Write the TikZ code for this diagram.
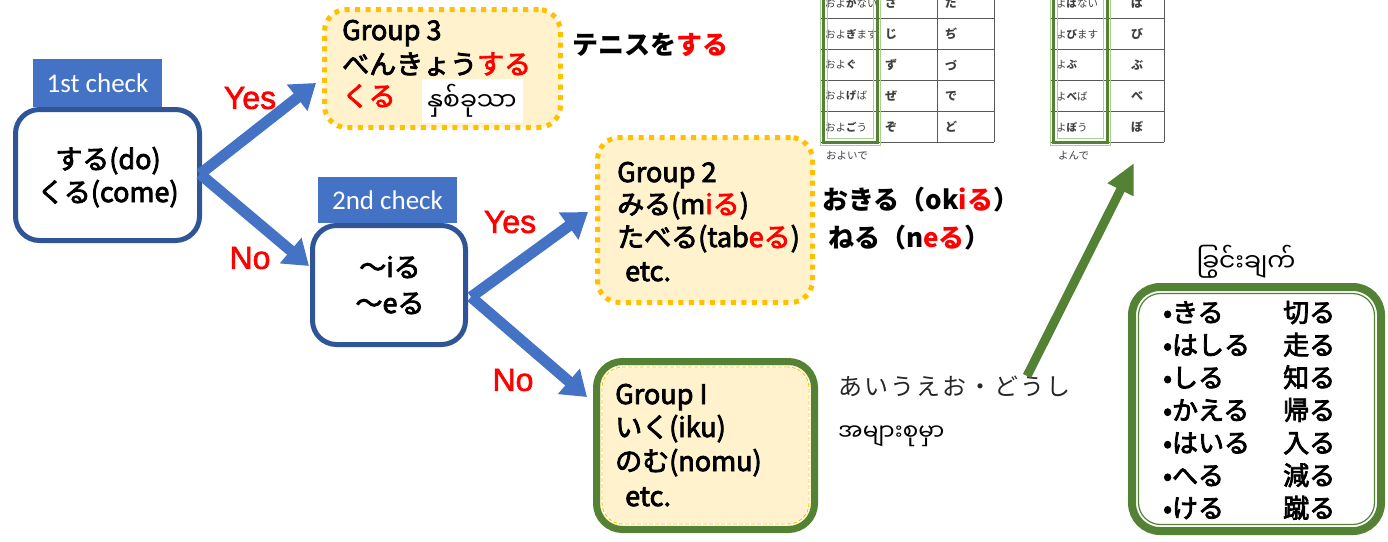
\documentclass[tikz,border=0pt]{standalone}
\usepackage{fontspec}
\setmainfont{Noto Sans CJK JP}
\newfontfamily\medfont{Noto Sans CJK JP}[FakeBold=3]
\newfontfamily\mmfont[Script=Myanmar]{Noto Sans Myanmar UI}
\newfontfamily\calfont{Carlito}
\newfontfamily\arialfont{Liberation Sans}[FakeBold=2]
\usetikzlibrary{arrows.meta}

\definecolor{bluefill}{HTML}{4472C4}
\definecolor{bluedark}{HTML}{2F5597}
\definecolor{gold}{HTML}{FFC000}
\definecolor{cream}{HTML}{FFF2CC}
\definecolor{leaf}{HTML}{548235}
\definecolor{leaflight}{HTML}{A9D18E}
\definecolor{redtxt}{HTML}{FF0000}
\definecolor{inkgray}{HTML}{404040}

\newcommand{\rd}[1]{\textcolor{redtxt}{#1}}

\tikzset{
  bigtxt/.style={font=\medfont\fontsize{27}{32}\selectfont, inner sep=0pt,
    text height=23pt, text depth=5pt, anchor=west},
  boldtxt/.style={bigtxt, font=\fontsize{26}{32}\selectfont\bfseries},
  listtxt/.style={bigtxt, font=\medfont\fontsize{26}{32}\selectfont},
  yesno/.style={font=\arialfont\fontsize{32}{36}\selectfont, text=redtxt, inner sep=0pt},
  checklabel/.style={fill=bluefill, text=white, font=\calfont\fontsize{27}{30}\selectfont,
    inner sep=0pt},
  checkbox/.style={draw=bluedark, fill=white, line width=5pt, rounded corners=24pt,
    inner sep=0pt},
  dotbox/.style={draw=gold, fill=cream, line width=5pt, dash pattern=on 5pt off 5.5pt,
    rounded corners=22pt, inner sep=0pt},
  greenbox/.style={draw=leaf, line width=8pt, rounded corners=28pt, inner sep=0pt},
  flowarrow/.style={bluefill, line width=11pt, -{Triangle[length=24pt,width=32pt]}},
  greenarrow/.style={leaf, line width=9pt, -{Triangle[length=30pt,width=27pt]}},
  gridline/.style={draw=black!65, line width=1pt},
  tabtxt/.style={font=\fontsize{10.5}{12}\selectfont, text=inkgray, inner sep=0pt, anchor=west},
  tabkana/.style={font=\fontsize{12}{14}\selectfont\bfseries, text=inkgray, inner sep=0pt, anchor=west},
  mmtxt/.style={inner sep=0pt, font=\mmfont\fontsize{25}{30}\selectfont},
}

\begin{document}
\begin{tikzpicture}[x=1pt,y=-1pt]
\useasboundingbox (0,0) rectangle (1388,541);

% ---------- conjugation tables (top right) ----------
\begin{scope}
  \clip (0,0) rectangle (1388,541);
  \foreach \y in {-13,18,49,80,111,142} {
    \draw[gridline] (820,\y) -- (994,\y);
    \draw[gridline] (1050,\y) -- (1164,\y);
  }
  \foreach \x in {820,880,937,994,1050,1110,1164}
    \draw[gridline] (\x,-13) -- (\x,142);
  \foreach \w [count=\i] in {{およ\textbf{が}ない},{およ\textbf{ぎ}ます},{およ\textbf{ぐ}},{およ\textbf{げ}ば},{およ\textbf{ご}う}}
    \node[tabtxt] (ta\i) at (825,{3+31*(\i-1)}) {\w};
  \foreach \w [count=\i] in {ざ,じ,ず,ぜ,ぞ}
    \node[tabkana] (tb\i) at (885,{3+31*(\i-1)}) {\w};
  \foreach \w [count=\i] in {だ,ぢ,づ,で,ど}
    \node[tabkana] (tc\i) at (945,{3+31*(\i-1)}) {\w};
  \foreach \w [count=\i] in {{よ\textbf{ば}ない},{よ\textbf{び}ます},{よ\textbf{ぶ}},{よ\textbf{べ}ば},{よ\textbf{ぼ}う}}
    \node[tabtxt] (td\i) at (1056,{3+31*(\i-1)}) {\w};
  \foreach \w [count=\i] in {ば,び,ぶ,べ,ぼ}
    \node[tabkana] (te\i) at (1131,{3+31*(\i-1)}) {\w};
  % highlighted stem columns
  \draw[leaflight, line width=1pt] (820.5,-20) rectangle (880.5,145.5);
  \draw[leaf, line width=3.5pt] (823.5,-20) rectangle (877.5,142.5);
  \draw[leaflight, line width=1pt] (827.5,-20) rectangle (873.5,138.5);
  \draw[leaflight, line width=1pt] (1050.5,-20) rectangle (1110.5,145.5);
  \draw[leaf, line width=3.5pt] (1053.5,-20) rectangle (1107.5,142.5);
  \draw[leaflight, line width=1pt] (1057.5,-20) rectangle (1103.5,138.5);
\end{scope}
\node[tabtxt] (te1form) at (826,156) {およいで};
\node[tabtxt] (te2form) at (1058,156) {よんで};

% ---------- first check ----------
\node[checklabel, minimum width=129pt, minimum height=48pt] (lab1) at (97.5,83) {1st check};
\node[checkbox, minimum width=184pt, minimum height=131pt] (b1) at (107.5,175) {};
\node[bigtxt, anchor=center] (b1a) at (108,160) {する(do)};
\node[bigtxt, anchor=center] (b1b) at (108,193) {くる(come)};

% ---------- second check ----------
\node[checklabel, minimum width=139pt, minimum height=46pt] (lab2) at (387.5,200) {2nd check};
\node[checkbox, minimum width=153pt, minimum height=119pt] (b2) at (389,285) {};
\node[bigtxt, anchor=center] (b2a) at (390,268) {～iる};
\node[bigtxt, anchor=center] (b2b) at (390,304) {～eる};

% ---------- group 3 ----------
\node[dotbox, minimum width=236pt, minimum height=118pt] (g3) at (442.5,68.5) {};
\node[bigtxt] (g3a) at (342,31) {Group 3};
\node[bigtxt] (g3b) at (342,65) {べんきょう\rd{する}};
\node[bigtxt] (g3c) at (342,97) {\rd{くる}};
\node[mmtxt, fill=white, minimum width=101pt, minimum height=44pt] (g3mm) at (472,101) {နှစ်ခုသာ};
\node[boldtxt] (g3ex) at (572,45) {テニスを\rd{する}};

% ---------- group 2 ----------
\node[dotbox, minimum width=215pt, minimum height=165pt] (g2) at (705,220) {};
\node[bigtxt] (g2a) at (617,173) {Group 2};
\node[bigtxt] (g2b) at (617,205) {みる(m\rd{iる})};
\node[bigtxt] (g2c) at (617,238) {たべる(tab\rd{eる})};
\node[bigtxt] (g2d) at (625,272) {etc.};
\node[boldtxt] (g2ex1) at (822,200) {おきる（ok\rd{iる}）};
\node[boldtxt] (g2ex2) at (828,238) {ねる（n\rd{eる}）};

% ---------- group 1 ----------
\node[greenbox, fill=cream, line width=7pt, rounded corners=26pt,
      minimum width=218pt, minimum height=168pt] (g1) at (705.5,445.5) {};
\node[draw=white, line width=2pt, rounded corners=21pt, inner sep=0pt,
      minimum width=207pt, minimum height=157pt] (g1w) at (g1) {};
\node[draw=gold, line width=0.9pt, dash pattern=on 4pt off 2pt, rounded corners=21pt,
      inner sep=0pt, minimum width=207pt, minimum height=157pt] (g1d) at (g1) {};
\node[bigtxt] (g1a) at (615,395) {Group I};
\node[bigtxt] (g1b) at (615,428) {いく(iku)};
\node[bigtxt] (g1c) at (615,462) {のむ(nomu)};
\node[bigtxt] (g1d2) at (625,497) {etc.};
\node[bigtxt, font=\fontsize{24}{30}\selectfont, text=black!85] (g1ex) at (838,386)
  {あ\hspace{2pt}い\hspace{2pt}う\hspace{2pt}え\hspace{2pt}お\hspace{2pt}・\hspace{2pt}ど\hspace{2pt}う\hspace{2pt}し};
\node[mmtxt, anchor=west, font=\mmfont\fontsize{23}{28}\selectfont] (g1mm) at (838,436) {အများစုမှာ};

% ---------- exceptions ----------
\node[mmtxt] (exttl) at (1246,262) {ခြွင်းချက်};
\node[greenbox, fill=white, minimum width=249pt, minimum height=244pt] (exbox) at (1256.5,409) {};
\node[draw=leaf, line width=1.2pt, rounded corners=22pt, inner sep=0pt,
      minimum width=236pt, minimum height=231pt] (exin) at (exbox) {};
\foreach \a/\b [count=\i] in {きる/切る, はしる/走る, しる/知る, かえる/帰る, はいる/入る, へる/減る, ける/蹴る} {
  \node[listtxt] (exl\i) at (1163,{313+32.6*(\i-1)}) {•\a};
  \node[listtxt] (exr\i) at (1283,{313+32.6*(\i-1)}) {\b};
}

% ---------- connectors ----------
\coordinate (s1) at (200,174);
\coordinate (t1) at (316,83);
\coordinate (t2) at (309,266);
\coordinate (s2) at (471,297);
\coordinate (t3) at (588,212);
\coordinate (t4) at (587,397);
\coordinate (gs) at (1027,376);
\coordinate (gt) at (1134,163);
\draw[flowarrow] (s1) -- (t1);
\draw[flowarrow] (s1) -- (t2);
\draw[flowarrow] (s2) -- (t3);
\draw[flowarrow] (s2) -- (t4);
\draw[greenarrow] (gs) -- (gt);

\node[yesno] (y1) at (250,98) {Yes};
\node[yesno] (n1) at (250,258) {No};
\node[yesno] (y2) at (510,222) {Yes};
\node[yesno] (n2) at (513,380) {No};
\end{tikzpicture}
\end{document}
